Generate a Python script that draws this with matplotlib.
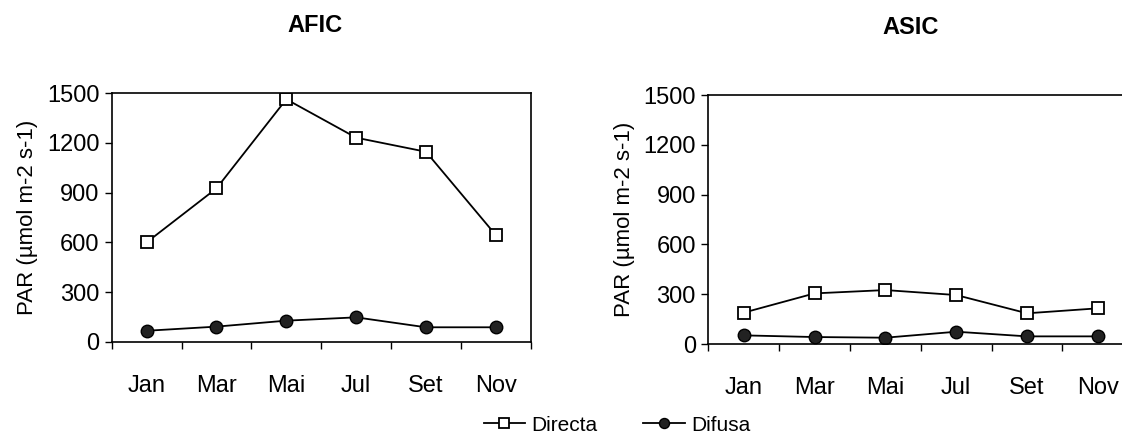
import matplotlib
matplotlib.use('Agg')
import matplotlib.pyplot as plt
import numpy as np

plt.rcParams['font.family'] = ['Liberation Sans', 'DejaVu Sans']

meses = ['Jan', 'Mar', 'Mai', 'Jul', 'Set', 'Nov']

# AFIC
afic_directa = [600, 926, 1464, 1232, 1147, 644]
afic_difusa = [66, 91, 127, 147, 87, 87]

# ASIC
asic_directa = [189, 305, 325, 295, 185, 215]
asic_difusa = [52, 42, 38, 74, 46, 46]

yticks = [0, 300, 600, 900, 1200, 1500]

fig = plt.figure(figsize=(11.22, 4.36), dpi=100)

ax1 = fig.add_axes([0.0996, 0.2163, 0.3734, 0.5697])
ax2 = fig.add_axes([0.6313, 0.211, 0.3788, 0.571])

x = np.arange(len(meses))


def desenha(ax, directa, difusa, titulo, tx):
    l1, = ax.plot(x, directa, '-', color='black', lw=1.3, marker='s', ms=9,
                  mfc='white', mec='black', mew=1.3, label='Directa')
    l2, = ax.plot(x, difusa, '-', color='black', lw=1.3, marker='o', ms=9,
                  mfc='#222222', mec='black', label='Difusa')
    ax.set_xlim(-0.5, len(meses) - 0.5)
    ax.set_ylim(0, 1500)
    ax.set_yticks(yticks)
    ax.set_xticks(x)
    ax.set_xticklabels(meses)
    ax.set_xticks(np.arange(-0.5, len(meses)), minor=True)
    ax.tick_params(axis='x', which='major', length=0, pad=24, labelsize=17)
    ax.tick_params(axis='x', which='minor', length=5, width=1, direction='out')
    ax.tick_params(axis='y', length=5, width=1, labelsize=17, pad=4)
    ax.set_ylabel('PAR (µmol m-2 s-1)', fontsize=16, labelpad=6)
    ax.set_title(titulo, fontsize=17, fontweight='bold', pad=44, x=tx)
    for s in ax.spines.values():
        s.set_linewidth(1.2)
    return l1, l2


l1, l2 = desenha(ax1, afic_directa, afic_difusa, 'AFIC', 0.486)
desenha(ax2, asic_directa, asic_difusa, 'ASIC', 0.476)

fig.legend([l1, l2], ['Directa', 'Difusa'], loc='lower center', ncol=2,
           frameon=False, fontsize=15, bbox_to_anchor=(0.55, -0.04),
           handlelength=2.0, handletextpad=0.3, columnspacing=2.2,
           markerscale=0.8)

fig.savefig('out.png', dpi=100)
